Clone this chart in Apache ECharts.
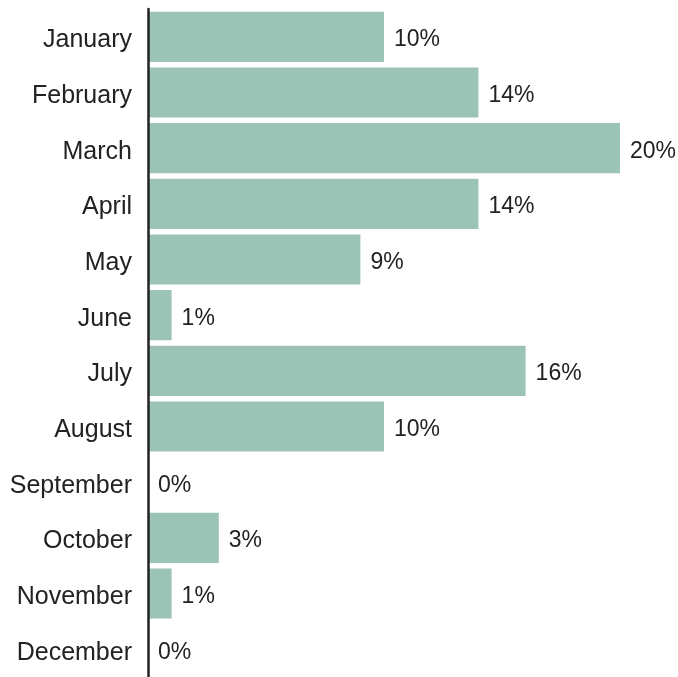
<!DOCTYPE html>
<html>
<head>
<meta charset="utf-8">
<script src="https://cdn.jsdelivr.net/npm/echarts@6/dist/echarts.min.js"></script>
<style>
  html, body { margin: 0; padding: 0; background: #fff; }
  #chart { width: 678px; height: 677px; }
</style>
</head>
<body>
<div id="chart"></div>
<script>
// share of the year per month, in percent
var months = ['January', 'February', 'March', 'April', 'May', 'June',
              'July', 'August', 'September', 'October', 'November', 'December'];
var shares = [10, 14, 20, 14, 9, 1, 16, 10, 0, 3, 1, 0];

var chart = echarts.init(document.getElementById('chart'));

chart.setOption({
    animation: false,
    grid: {
        left: 148,
        right: 58,
        top: 9,
        bottom: 0,
        containLabel: false
    },
    xAxis: {
        type: 'value',
        min: 0,
        max: 20,
        show: false
    },
    yAxis: {
        type: 'category',
        data: months,
        inverse: true,
        offset: 2,
        z: 5,
        axisLine: { show: true, lineStyle: { color: '#222', width: 2.5 } },
        axisTick: { show: false },
        axisLabel: {
            margin: 14,
            formatter: '{m|{value}}',
            rich: {
                m: {
                    color: '#222',
                    fontSize: 25,
                    fontFamily: 'Liberation Sans',
                    padding: [7, 0, 0, 0]
                }
            }
        }
    },
    series: [{
        type: 'bar',
        data: shares,
        barCategoryGap: '10%',
        itemStyle: { color: '#9cc4b6' },
        label: {
            show: true,
            position: 'right',
            distance: 10,
            offset: [0, 3],
            formatter: '{c}%',
            color: '#222',
            fontSize: 23,
            fontFamily: 'Liberation Sans'
        }
    }]
});
</script>
</body>
</html>
